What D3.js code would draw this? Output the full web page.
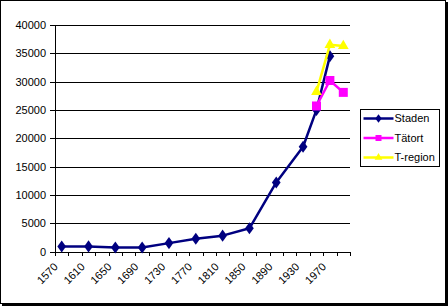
<!DOCTYPE html>
<html>
<head>
<meta charset="utf-8">
<script src="https://cdn.jsdelivr.net/npm/d3@7"></script>
<style>
  body { margin: 0; background: #fff; }
  svg { display: block; font-family: "Liberation Sans", Arial, sans-serif; }
  .axis path, .axis line { stroke: #000; shape-rendering: crispEdges; }
  .axis text { fill: #000; font-size: 11px; }
  .grid line { stroke: #000; shape-rendering: crispEdges; }
  .grid path { display: none; }
</style>
</head>
<body>
<div id="chart"></div>
<script>
// ---- Data ----
const years = [1570, 1590, 1610, 1630, 1650, 1670, 1690, 1710, 1730, 1750, 1770,
               1790, 1810, 1830, 1850, 1870, 1890, 1910, 1930, 1950, 1970, 1990];
const yearLabels = [1570, 1610, 1650, 1690, 1730, 1770, 1810, 1850, 1890, 1930, 1970];
const staden = [880, null, 900, null, 700, null, 700, null, 1480, null, 2240,
                null, 2800, null, 4100, null, 12200, null, 18500, 25000, 34500, null];
const tatort = [null, null, null, null, null, null, null, null, null, null, null,
                null, null, null, null, null, null, null, null, 25700, 30200, 28100];
const tregion = [null, null, null, null, null, null, null, null, null, null, null,
                 null, null, null, null, null, null, null, null, 28200, 36500, 36300];
const yTicks = [0, 5000, 10000, 15000, 20000, 25000, 30000, 35000, 40000];
const seriesNames = ["Staden", "Tätort", "T-region"];

const W = 448, H = 306;
const plot = {left: 55, right: 350, top: 25, bottom: 251.5};

const svg = d3.select("#chart").append("svg")
    .attr("width", W).attr("height", H);

// chart area frame with shadow
svg.append("rect").attr("x", 2).attr("y", 2).attr("width", W - 2).attr("height", H - 2).attr("fill", "#000");
svg.append("rect").attr("x", 0.5).attr("y", 0.5).attr("width", W - 3).attr("height", H - 3)
    .attr("fill", "#fff").attr("stroke", "#000");

const x = d3.scaleBand().domain(years).range([plot.left, plot.right]).padding(0);
const xEdge = d3.scaleLinear().domain([0, years.length]).range([plot.left, plot.right]);
const y = d3.scaleLinear().domain([0, 40000]).range([plot.bottom, plot.top]);
const cx = d => x(d) + x.bandwidth() / 2;

// gridlines
svg.append("g").attr("class", "grid")
    .attr("transform", `translate(${plot.left},0)`)
    .call(d3.axisLeft(y).tickValues(yTicks.slice(1)).tickSize(-(plot.right - plot.left)).tickFormat(""));

// y axis
svg.append("g").attr("class", "axis")
    .attr("transform", `translate(${plot.left},0)`)
    .call(d3.axisLeft(y).tickValues(yTicks).tickSize(5).tickSizeOuter(0).tickPadding(4).tickFormat(d3.format("d")))
    .call(g => g.select(".domain").attr("d", `M0.5,${plot.top}V${plot.bottom}`));

// x axis (tick marks between categories)
svg.append("g").attr("class", "axis")
    .attr("transform", `translate(0,${plot.bottom})`)
    .call(d3.axisBottom(xEdge).ticks(years.length).tickSize(4).tickSizeOuter(0).tickFormat(""));

// rotated category labels
svg.append("g").attr("class", "axis")
    .selectAll("text").data(yearLabels).join("text")
    .attr("transform", d => `translate(${cx(d) - 3},${plot.bottom + 16}) rotate(-45)`)
    .attr("text-anchor", "end")
    .text(d => d);

const series = [
  {name: seriesNames[0], values: staden, color: "#000080", symbol: d3.symbolDiamond, size: 42, legendSize: 22},
  {name: seriesNames[1], values: tatort, color: "#ff00ff", symbol: d3.symbolSquare, size: 81, legendSize: 36},
  {name: seriesNames[2], values: tregion, color: "#ffff00", symbol: d3.symbolTriangle, size: 50, legendSize: 26}
];

const line = d3.line().x(d => cx(d.year)).y(d => y(d.v));

series.forEach(s => {
  const pts = years.map((yr, i) => ({year: yr, v: s.values[i]})).filter(d => d.v !== null);
  const g = svg.append("g");
  g.append("path").datum(pts)
    .attr("fill", "none").attr("stroke", s.color).attr("stroke-width", 2.5)
    .attr("stroke-linejoin", "round")
    .attr("d", line);
  g.selectAll("path.m").data(pts).join("path").attr("class", "m")
    .attr("transform", d => `translate(${cx(d.year)},${y(d.v)})` + (s.symbol === d3.symbolDiamond ? " scale(1.25,1)" : ""))
    .attr("fill", s.color)
    .attr("d", d3.symbol(s.symbol, s.size));
});

// legend
const lg = svg.append("g").attr("transform", "translate(360.5,109.5)");
lg.append("rect").attr("width", 79).attr("height", 57).attr("fill", "#fff").attr("stroke", "#000");
series.forEach((s, i) => {
  const row = lg.append("g").attr("transform", `translate(0,${9 + i * 19.5})`);
  row.append("line").attr("x1", 3).attr("x2", 33).attr("stroke", s.color).attr("stroke-width", 2.5);
  row.append("path").attr("transform", "translate(18,0)" + (s.symbol === d3.symbolDiamond ? " scale(1.25,1)" : ""))
    .attr("fill", s.color).attr("d", d3.symbol(s.symbol, s.legendSize));
  row.append("text").attr("x", 34).attr("dy", "0.35em").attr("font-size", 11).text(s.name);
});
</script>
</body>
</html>
